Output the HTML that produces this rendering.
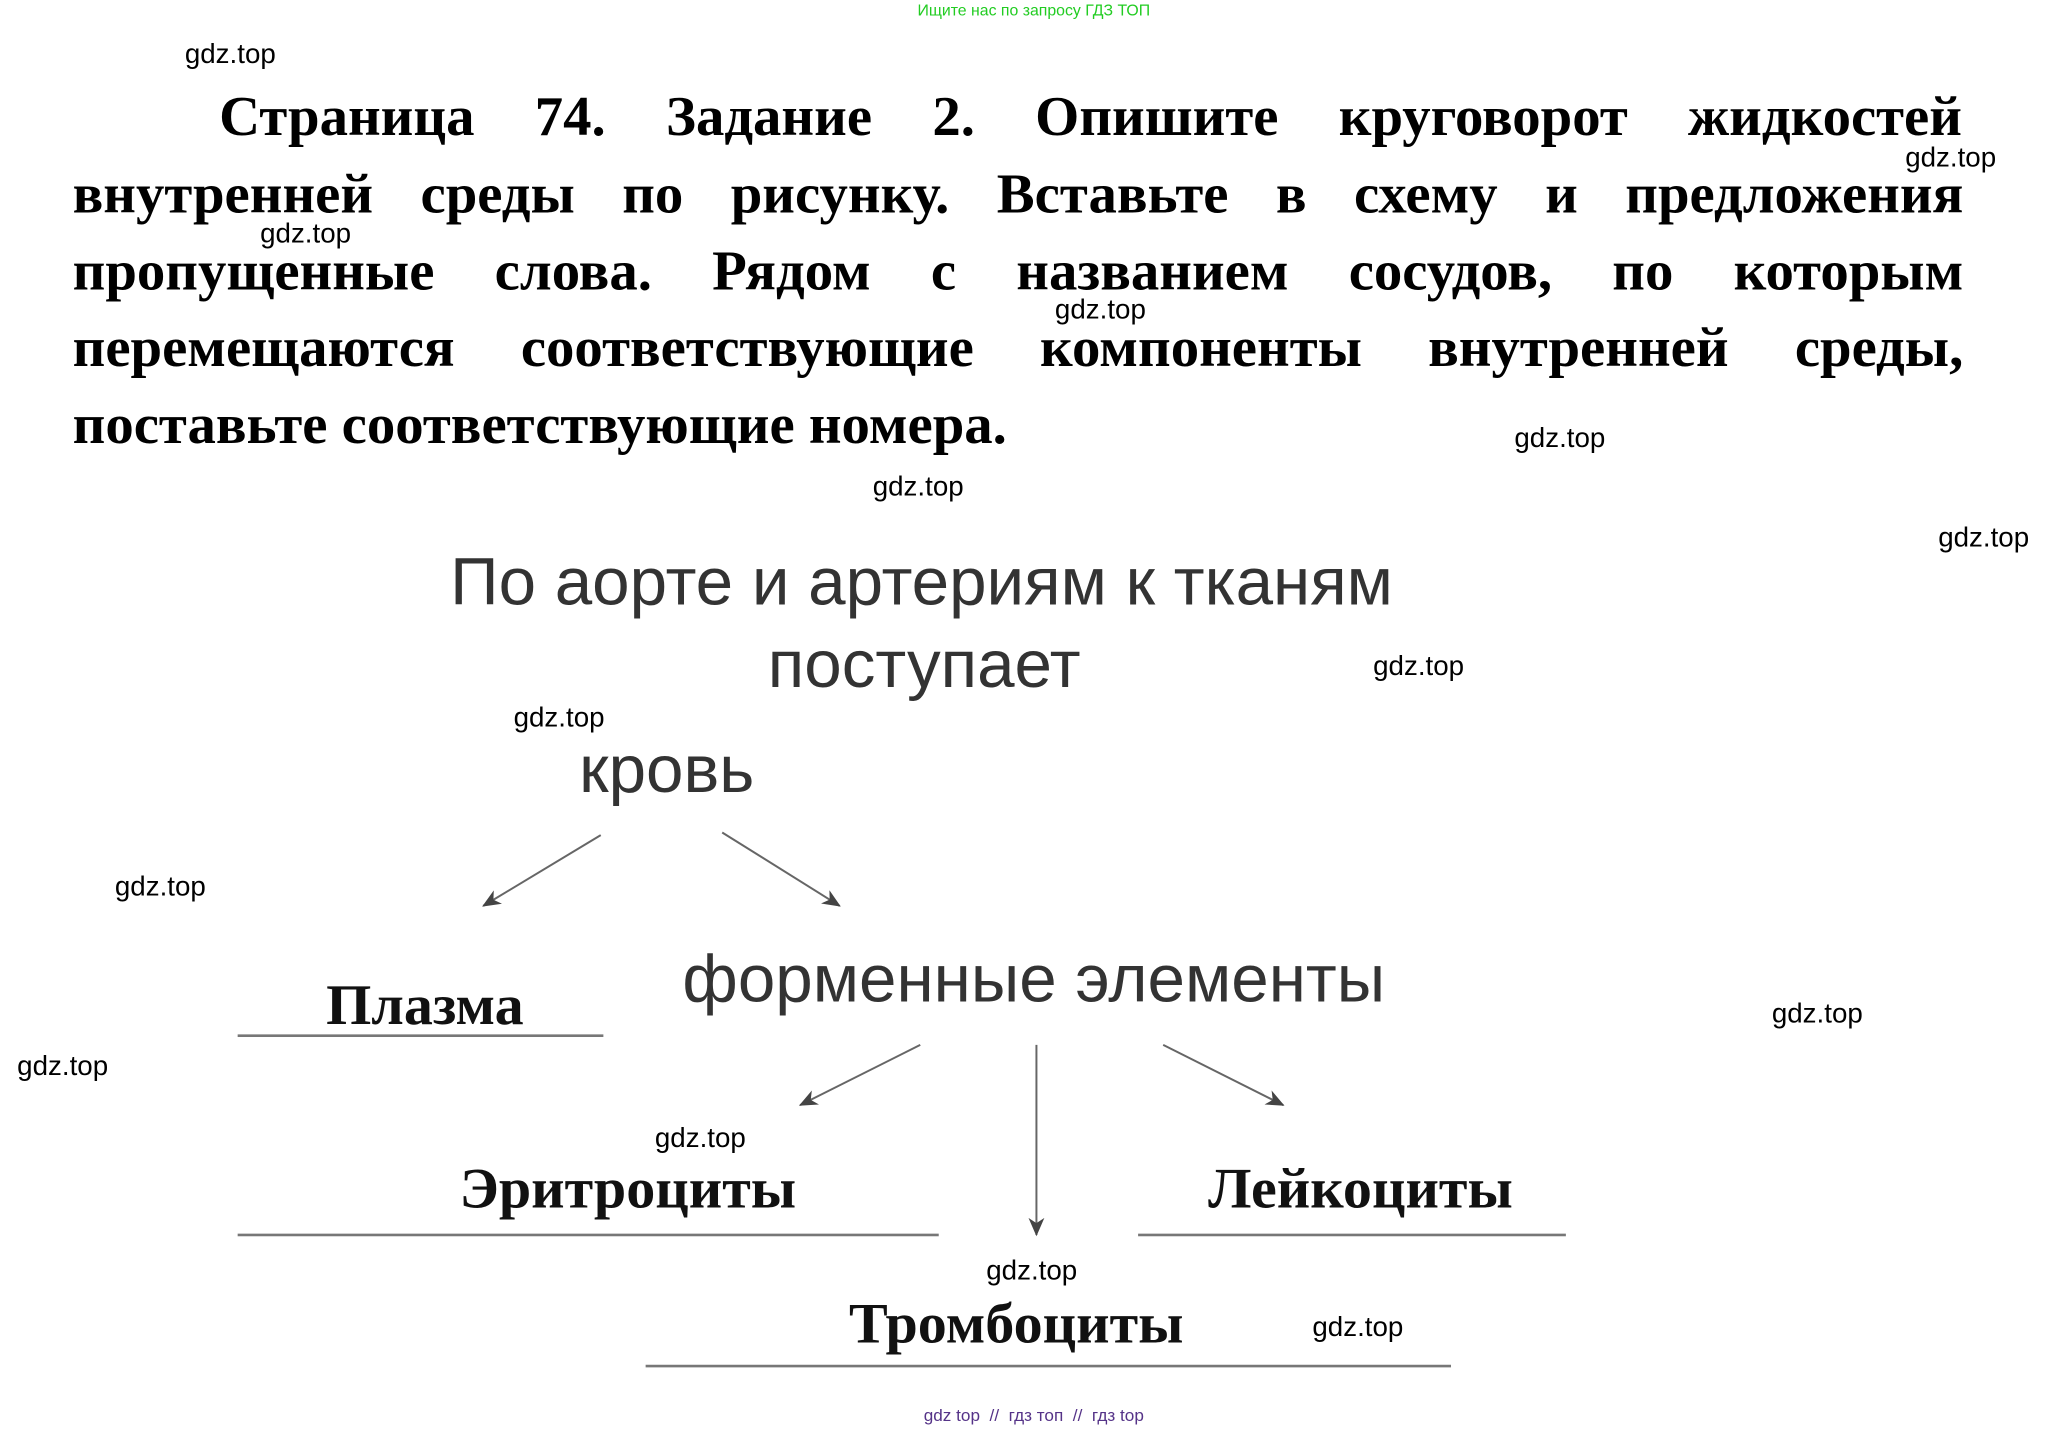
<!DOCTYPE html>
<html><head><meta charset="utf-8"><style>
html,body{margin:0;padding:0;background:#fff;width:2053px;height:1429px;overflow:hidden}
#c{position:absolute;left:0;top:0;width:1555px;height:1090px;transform:scale(1.3203,1.311);transform-origin:0 0}
.t{position:absolute;white-space:nowrap}
.w{position:absolute;font-family:"Liberation Sans",sans-serif;font-size:21px;color:#000;line-height:1}
.h{position:absolute;left:55px;width:1432px;font-family:"Liberation Serif",serif;font-weight:bold;font-size:43px;line-height:40px;text-align:justify;text-align-last:justify;white-space:nowrap}
.s{font-family:"Liberation Sans",sans-serif;color:#333;font-size:51px;line-height:1;transform:translateX(-50%)}
.b{font-family:"Liberation Serif",serif;font-weight:bold;font-size:44px;line-height:1;color:#111}
.ln{position:absolute;height:2px;background:#777}
</style></head><body><div id="c">
<div class="t" style="left:783px;top:1px;transform:translateX(-50%);font-family:'Liberation Sans',sans-serif;font-size:12px;color:#2c2">Ищите нас по запросу ГДЗ ТОП</div>
<div class="h" style="top:70px;left:166px;width:1320px">Страница 74. Задание 2. Опишите круговорот жидкостей</div>
<div class="h" style="top:129px">внутренней среды по рисунку. Вставьте в схему и предложения</div>
<div class="h" style="top:188px">пропущенные слова. Рядом с названием сосудов, по которым</div>
<div class="h" style="top:246px">перемещаются соответствующие компоненты внутренней среды,</div>
<div class="h" style="top:305px;text-align:left;text-align-last:left;width:auto">поставьте соответствующие номера.</div>

<div class="t s" style="left:698px;top:418px">По аорте и артериям к тканям</div>
<div class="t s" style="left:700px;top:481px">поступает</div>
<div class="t s" style="left:505px;top:561px">кровь</div>
<div class="t s" style="left:783px;top:721px">форменные элементы</div>

<svg style="position:absolute;left:0;top:0" width="1555" height="1090">
<defs><marker id="a" markerWidth="14" markerHeight="12" refX="13" refY="6" orient="auto" markerUnits="userSpaceOnUse"><path d="M0,0 L14,6 L0,12 L4,6z" fill="#444"/></marker></defs>
<g stroke="#666" stroke-width="1.5" fill="none" marker-end="url(#a)">
<line x1="455" y1="637" x2="366" y2="691"/>
<line x1="547" y1="635" x2="636" y2="691"/>
<line x1="697" y1="797" x2="606" y2="843"/>
<line x1="785" y1="797" x2="785" y2="942"/>
<line x1="881" y1="797" x2="972" y2="843"/>
</g></svg>

<div class="t b" style="left:247px;top:745px">Плазма</div>
<div class="ln" style="left:180px;top:789px;width:277px"></div>
<div class="t b" style="left:348px;top:885px">Эритроциты</div>
<div class="ln" style="left:180px;top:941px;width:531px"></div>
<div class="t b" style="left:915px;top:885px">Лейкоциты</div>
<div class="ln" style="left:862px;top:941px;width:324px"></div>
<div class="t b" style="left:643px;top:988px">Тромбоциты</div>
<div class="ln" style="left:489px;top:1041px;width:610px"></div>

<div class="w" style="left:140px;top:31px">gdz.top</div>
<div class="w" style="left:1443px;top:110px">gdz.top</div>
<div class="w" style="left:197px;top:168px">gdz.top</div>
<div class="w" style="left:799px;top:226px">gdz.top</div>
<div class="w" style="left:1147px;top:324px">gdz.top</div>
<div class="w" style="left:661px;top:361px">gdz.top</div>
<div class="w" style="left:1468px;top:400px">gdz.top</div>
<div class="w" style="left:1040px;top:498px">gdz.top</div>
<div class="w" style="left:389px;top:537px">gdz.top</div>
<div class="w" style="left:87px;top:666px">gdz.top</div>
<div class="w" style="left:1342px;top:763px">gdz.top</div>
<div class="w" style="left:13px;top:803px">gdz.top</div>
<div class="w" style="left:496px;top:858px">gdz.top</div>
<div class="w" style="left:747px;top:959px">gdz.top</div>
<div class="w" style="left:994px;top:1002px">gdz.top</div>
<div class="t" style="left:783px;top:1072px;transform:translateX(-50%);font-family:'Liberation Sans',sans-serif;font-size:13px;color:#538">gdz top &nbsp;//&nbsp; гдз топ &nbsp;//&nbsp; гдз top</div>
</div></body></html>
